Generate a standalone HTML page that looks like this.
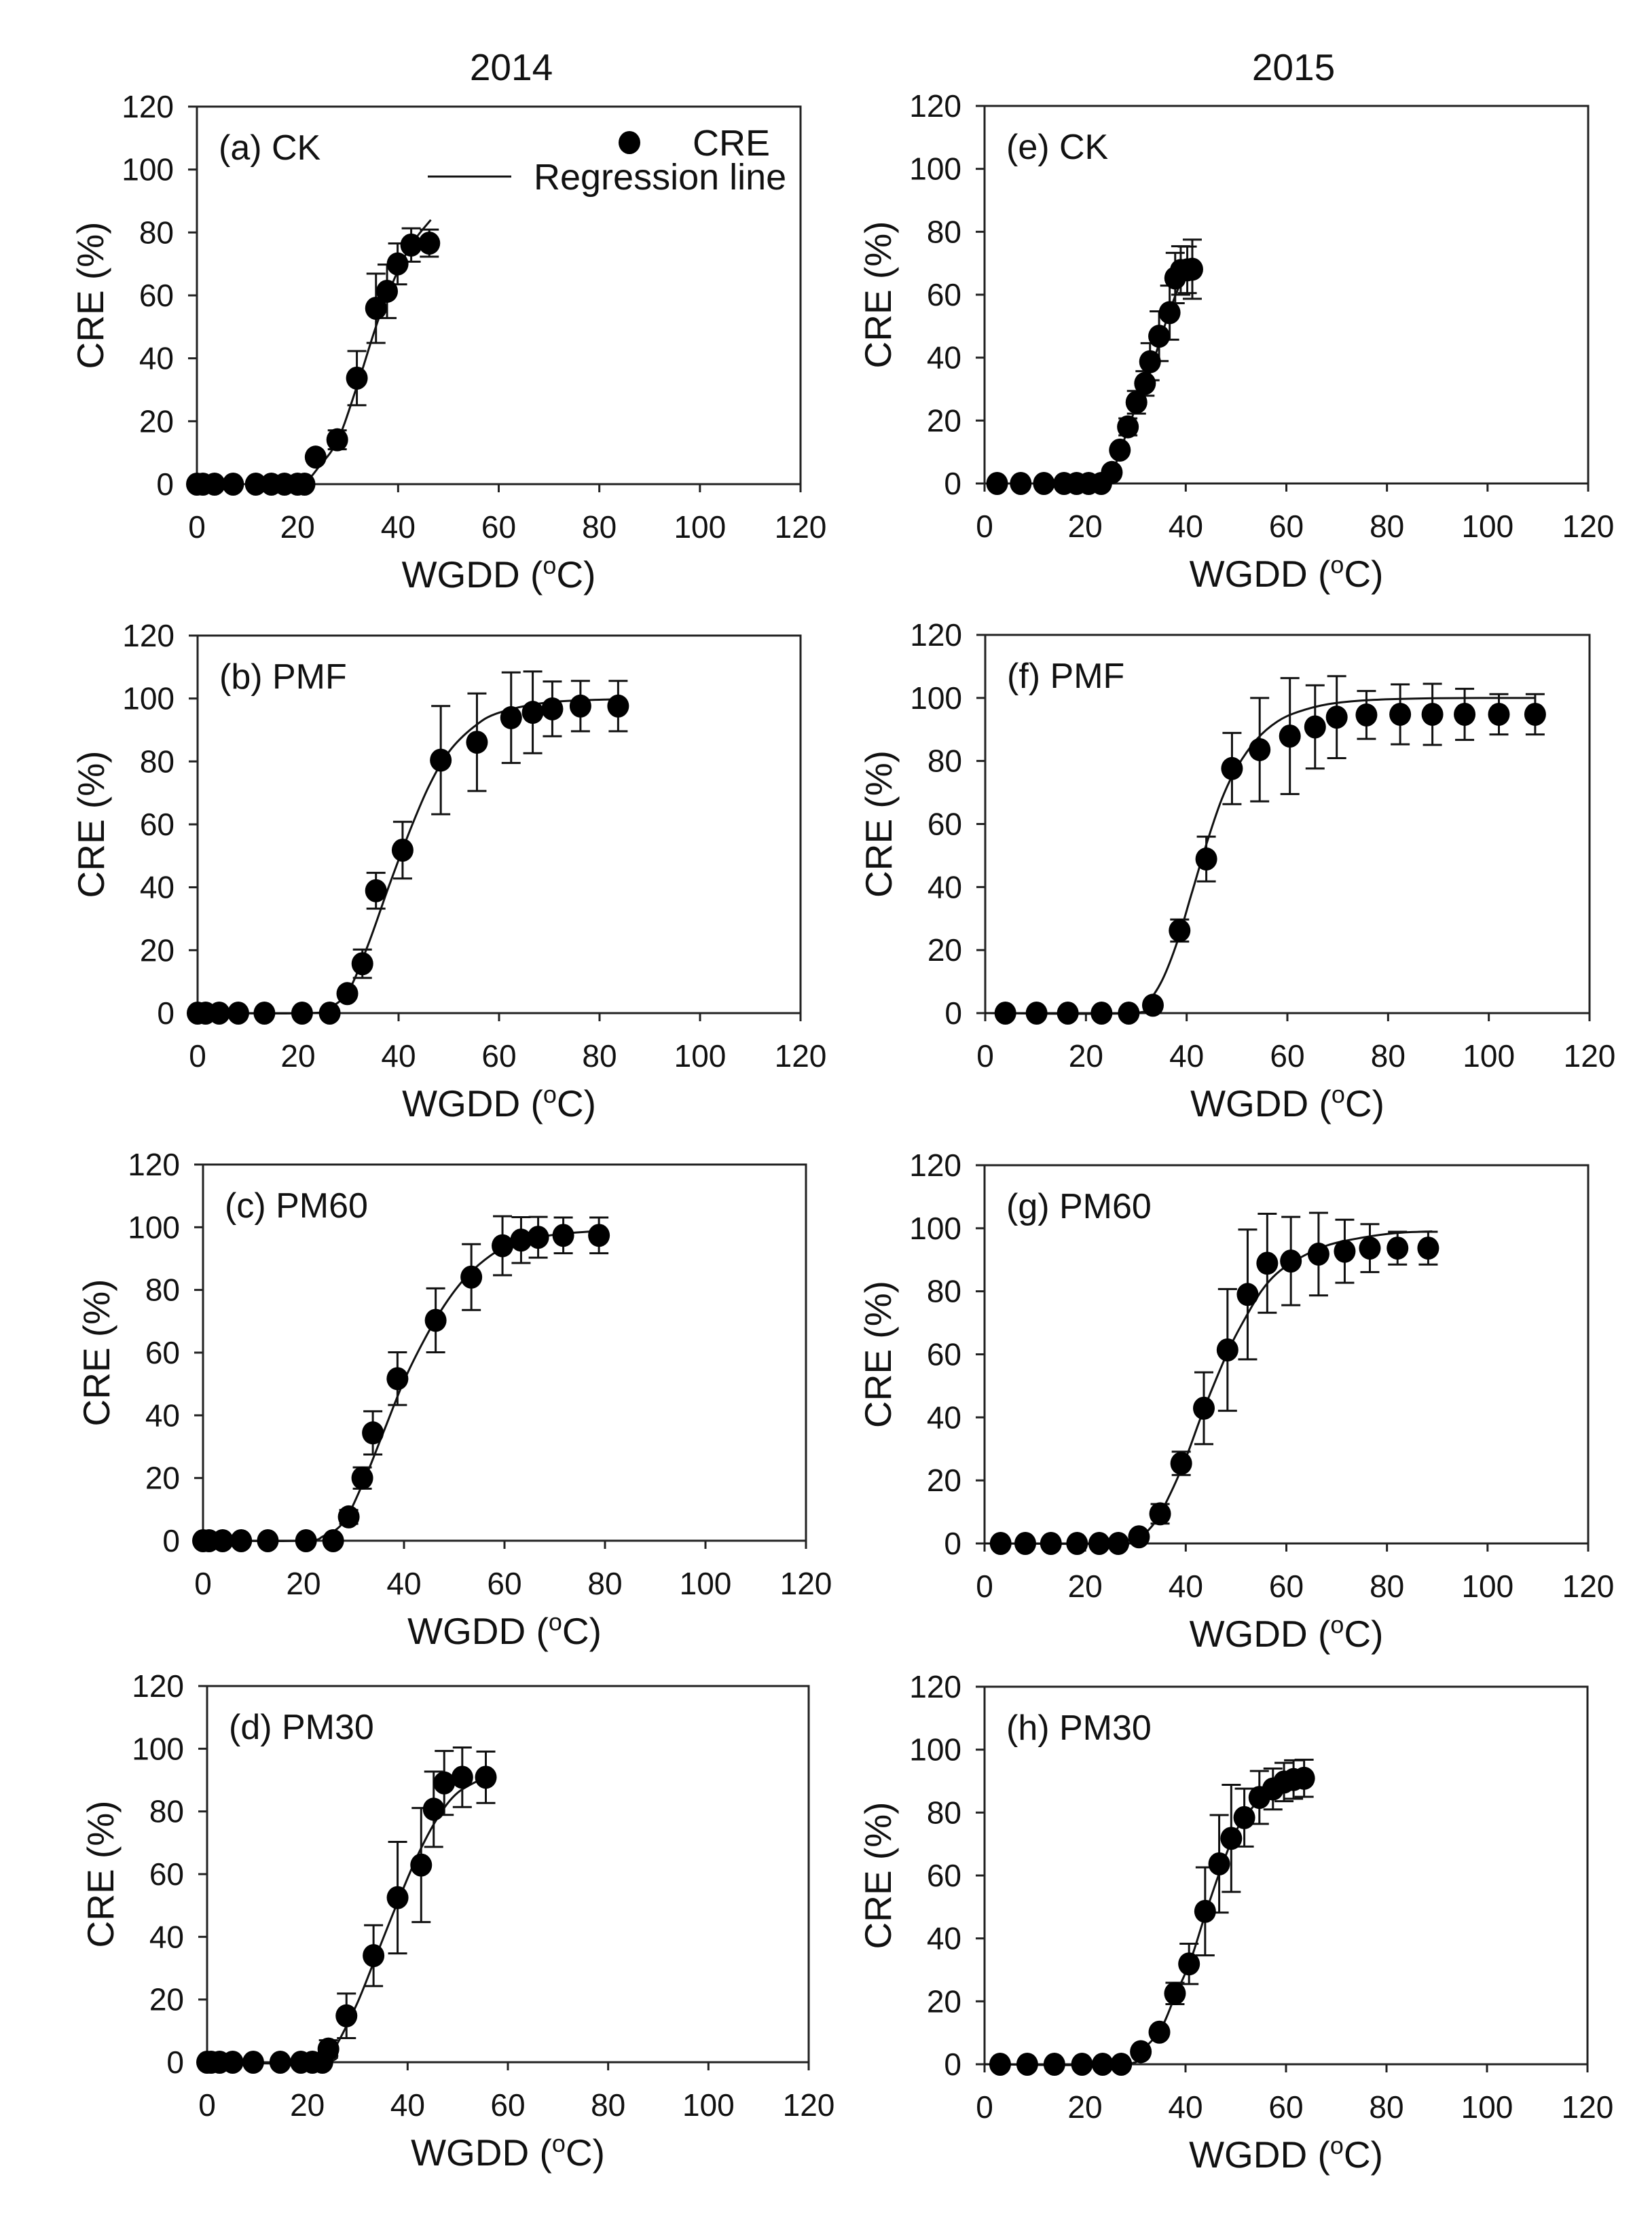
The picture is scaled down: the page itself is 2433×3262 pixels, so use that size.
<!DOCTYPE html>
<html><head><meta charset="utf-8">
<style>
html,body{margin:0;padding:0;background:#fff;}
svg{display:block;}
text{font-family:"Liberation Sans",Arial,sans-serif;fill:#111;}
.tick{font-family:"Liberation Sans Narrow","Liberation Sans",sans-serif;font-size:46px;}
.title{font-size:55px;}
.plab{font-size:52px;}
</style></head>
<body>
<svg id="fig" width="2433" height="3262" viewBox="0 0 2433 3262" xmlns="http://www.w3.org/2000/svg">
<text x="753" y="118" text-anchor="middle" class="title">2014</text>
<text x="1905" y="118" text-anchor="middle" class="title">2015</text>
</svg>
<script>
// ---- data (x = WGDD °C, y = CRE %, e = error half-width) ----
const aX=[0,1.2,3.5,7.2,11.7,14.8,17.4,20,21.4,23.6,27.9,31.8,35.6,37.8,39.9,42.6,46.2];
const aY=[0,0,0,0,0,0,0,0,0,8.6,14.1,33.7,55.9,61.3,70,76,76.6];
const aE=[0,0,0,0,0,0,0,0,0,0,3,8.6,11,8.5,6.5,5.3,4.3];
const aLX=[21.5,24,28,32,36,40,43,46.5];
const aLY=[0,5,14,32,52,68,77,84];

const bX=[0,1.6,4.3,8.1,13.3,20.8,26.3,29.8,32.8,35.5,40.8,48.4,55.6,62.4,66.7,70.6,76.2,83.7];
const bY=[0,0,0,0,0,0,0,6.2,15.7,38.9,51.8,80.4,86.1,93.9,95.6,96.7,97.6,97.6];
const bE=[0,0,0,0,0,0,0,0,4.5,5.7,9,17.2,15.5,14.4,13,8.7,8,8];
const bLX=[0,22,26,30,34,38,42,46,50,55,60,70,84];
const bLY=[0,0,1.5,7,22,40,57,72,83,91,95.5,98.8,99.8];

const cX=[0,1.2,3.9,7.6,12.9,20.5,25.9,29,31.7,33.8,38.7,46.3,53.4,59.6,63.3,66.7,71.7,78.8];
const cY=[0,0,0,0,0,0,0,7.6,20,34.4,51.7,70.3,84.1,94.1,95.9,96.8,97.4,97.4];
const cE=[0,0,0,0,0,0,0,2.2,3.4,6.9,8.4,10.2,10.5,9.4,7.3,6.5,5.7,5.7];
const cLX=[0,20,24,28,32,36,40,44,48,52,56,60,66,72,79];
const cLY=[0,0,1.5,6,19,35,51,64,75,83.5,89.5,93.5,96.5,98,98.8];

const dX=[0,0.8,2.5,5.1,9.2,14.6,18.7,21,23,24.2,27.8,33.2,38,42.7,45.2,47.3,50.9,55.6];
const dY=[0,0,0,0,0,0,0,0,0,4.2,14.8,34,52.5,62.9,80.7,89.1,90.9,90.9];
const dE=[0,0,0,0,0,0,0,0,0,2.8,7.1,9.7,17.8,18.2,12,10.2,9.5,8.2];
const dLX=[0,23.5,26,30,34,38,42,46,50,55.6];
const dLY=[0,0,6,19,35,51,66,78,86,91];

const eX=[2.5,7.2,11.8,15.8,18.3,20.7,23.2,25.3,26.9,28.5,30.2,31.9,32.9,34.7,36.8,37.9,39,40.3,41.3];
const eY=[0,0,0,0,0,0,0,3.5,10.6,18,25.8,31.8,38.7,46.8,54.3,65.3,67.7,67.9,68.1];
const eE=[0,0,0,0,0,0,0,0,0,2.7,3.6,3.9,5.9,7.9,8.6,8,7.7,7.4,9.4];
const eLX=[23.5,25.5,28,30,32,34,36,38,40,41.3];
const eLY=[0,4,15,24,32,41,51,60,67,69];

const fX=[4,10.2,16.4,23.1,28.5,33.3,38.6,43.9,49,54.5,60.5,65.5,69.8,75.7,82.4,88.8,95.2,102,109.2];
const fY=[0,0,0,0,0,2.5,26.2,48.9,77.6,83.6,87.9,90.8,93.9,94.6,94.8,94.8,94.8,94.8,94.8];
const fE=[0,0,0,0,0,0,3.5,7.1,11.3,16.4,18.4,13.2,13,7.6,9.5,9.7,8.1,6.4,6.4];
const fLX=[0,29,32,35,38,41,44,47,50,54,58,62,68,76,90,109.2];
const fLY=[0,0,3,10,22,38,54,68,78,87,92.5,95.5,98,99.3,99.9,100];

const gX=[3.2,8.1,13.2,18.4,22.8,26.6,30.7,34.9,39.1,43.6,48.3,52.3,56.2,60.9,66.4,71.6,76.6,82.1,88.2];
const gY=[0,0,0,0,0,0,2.1,9.4,25.4,42.9,61.4,79,88.9,89.6,91.8,92.7,93.7,93.7,93.7];
const gE=[0,0,0,0,0,0,0,3.1,3.7,11.4,19.3,20.6,15.7,14,13.1,10,7.6,5.2,5.2];
const gLX=[0,28,31,34,37,40,43,46,49,52,55,58,62,68,75,82,89];
const gLY=[0,0,2,7,16,27,40,52,63,72,80,85.5,90,94.5,97,98.5,99];

const hX=[3.1,8.5,13.9,19.4,23.5,27.2,31.1,34.8,37.9,40.7,43.9,46.7,49.1,51.7,54.7,57.4,59.6,61.5,63.6];
const hY=[0,0,0,0,0,0,4,10.2,22.5,31.9,48.6,63.7,71.8,78.4,84.8,87.5,89.7,90.5,90.9];
const hE=[0,0,0,0,0,0,0,0,3.4,6.4,14,15.5,17,9.2,8.4,6.5,6.1,6.1,5.9];
const hLX=[0,27.5,31,35,38,41,44,47,50,53,56,59,63.6];
const hLY=[0,0,4,11,22,33,48,62,74,81,86,89,91.5];

const xTicks=[0,20,40,60,80,100,120];
const yTicks=[0,20,40,60,80,100,120];

// ---- layout ----
const panels=[
 {k:'a',lab:'(a) CK',  X:aX,Y:aY,E:aE,LX:aLX,LY:aLY,l:290,r:1179,t:157,b:713},
 {k:'b',lab:'(b) PMF', X:bX,Y:bY,E:bE,LX:bLX,LY:bLY,l:291,r:1179,t:936,b:1492},
 {k:'c',lab:'(c) PM60',X:cX,Y:cY,E:cE,LX:cLX,LY:cLY,l:299,r:1187,t:1715,b:2269},
 {k:'d',lab:'(d) PM30',X:dX,Y:dY,E:dE,LX:dLX,LY:dLY,l:305,r:1191,t:2483,b:3037},
 {k:'e',lab:'(e) CK',  X:eX,Y:eY,E:eE,LX:eLX,LY:eLY,l:1450,r:2339,t:156,b:712},
 {k:'f',lab:'(f) PMF', X:fX,Y:fY,E:fE,LX:fLX,LY:fLY,l:1451,r:2341,t:935,b:1492},
 {k:'g',lab:'(g) PM60',X:gX,Y:gY,E:gE,LX:gLX,LY:gLY,l:1450,r:2339,t:1716,b:2273},
 {k:'h',lab:'(h) PM30',X:hX,Y:hY,E:hE,LX:hLX,LY:hLY,l:1450,r:2338,t:2484,b:3040}
];
const NS='http://www.w3.org/2000/svg';
const svg=document.getElementById('fig');
function mk(tag,attrs,parent){const e=document.createElementNS(NS,tag);for(const k in attrs)e.setAttribute(k,attrs[k]);(parent||svg).appendChild(e);return e;}

function smoothPath(pts){
  let d='M'+pts[0][0]+','+pts[0][1];
  for(let i=0;i<pts.length-1;i++){
    const p0=pts[Math.max(0,i-1)],p1=pts[i],p2=pts[i+1],p3=pts[Math.min(pts.length-1,i+2)];
    const c1x=p1[0]+(p2[0]-p0[0])/6,c1y=p1[1]+(p2[1]-p0[1])/6;
    const c2x=p2[0]-(p3[0]-p1[0])/6,c2y=p2[1]-(p3[1]-p1[1])/6;
    d+=' C'+c1x+','+c1y+' '+c2x+','+c2y+' '+p2[0]+','+p2[1];
  }
  return d;
}

panels.forEach(p=>{
  const g=mk('g',{});
  
  
  const sx=v=>p.l+(v-0)/120*(p.r-p.l);
  const sy=v=>p.b-(v-0)/120*(p.b-p.t);
  const frame=mk('rect',{x:p.l,y:p.t,width:p.r-p.l,height:p.b-p.t,fill:'none',stroke:'#222','stroke-width':3},g);
  
  
  xTicks.forEach(v=>{
    const tl=mk('line',{x1:sx(v),x2:sx(v),y1:p.b,y2:p.b+12,stroke:'#222','stroke-width':3},g);
    
    
    const tx=mk('text',{x:sx(v),y:p.b+79,'text-anchor':'middle',class:'tick'},g);
    tx.textContent=v;
    
    
  });
  yTicks.forEach(v=>{
    const tl=mk('line',{x1:p.l-13,x2:p.l,y1:sy(v),y2:sy(v),stroke:'#222','stroke-width':3},g);
    
    
    const tx=mk('text',{x:p.l-34,y:sy(v)+16,'text-anchor':'end',class:'tick'},g);
    tx.textContent=v;
    
    
  });
  const xt=mk('text',{x:(p.l+p.r)/2,y:p.b+152,'text-anchor':'middle',class:'title'},g);
  xt.innerHTML='WGDD (<tspan dy="-20" font-size="36">o</tspan><tspan dy="20">C)</tspan>';
  
  
  const cy=(p.t+p.b)/2, cx=p.l-157;
  const yt=mk('text',{x:cx,y:cy+19,'text-anchor':'middle',class:'title',transform:'rotate(-90 '+cx+' '+cy+')'},g);
  yt.textContent='CRE (%)';
  
  
  const pl=mk('text',{x:p.l+32,y:p.t+78,class:'plab'},g);
  pl.textContent=p.lab;
  
  
  const pts=p.LX.map((x,i)=>[sx(x),sy(p.LY[i])]);
  const rl=mk('path',{d:smoothPath(pts),fill:'none',stroke:'#111','stroke-width':3},g);
  
  
  p.X.forEach((x,i)=>{
    if(p.E[i]<=0) return;
    const X=sx(x),y1=sy(p.Y[i]+p.E[i]),y2=sy(p.Y[i]-p.E[i]);
    const eb=mk('path',{d:'M'+X+','+y1+'V'+y2+'M'+(X-14)+','+y1+'H'+(X+14)+'M'+(X-14)+','+y2+'H'+(X+14),stroke:'#111','stroke-width':3,fill:'none'},g);
    
    
  });
  p.X.forEach((x,i)=>{
    const c=mk('ellipse',{cx:sx(x),cy:sy(p.Y[i]),rx:16,ry:17,fill:'#000'},g);
    
    
  });
});

const lg=mk('g',{});


const ld=mk('ellipse',{cx:927,cy:210,rx:16,ry:17,fill:'#000'},lg);


const lt1=mk('text',{x:1020,y:229,'font-size':'54'},lg);
lt1.textContent='CRE';


const ll=mk('line',{x1:630,x2:753,y1:260,y2:260,stroke:'#111','stroke-width':3},lg);


const lt2=mk('text',{x:786,y:279,'font-size':'54'},lg);
lt2.textContent='Regression line';


</script>
</body></html>
